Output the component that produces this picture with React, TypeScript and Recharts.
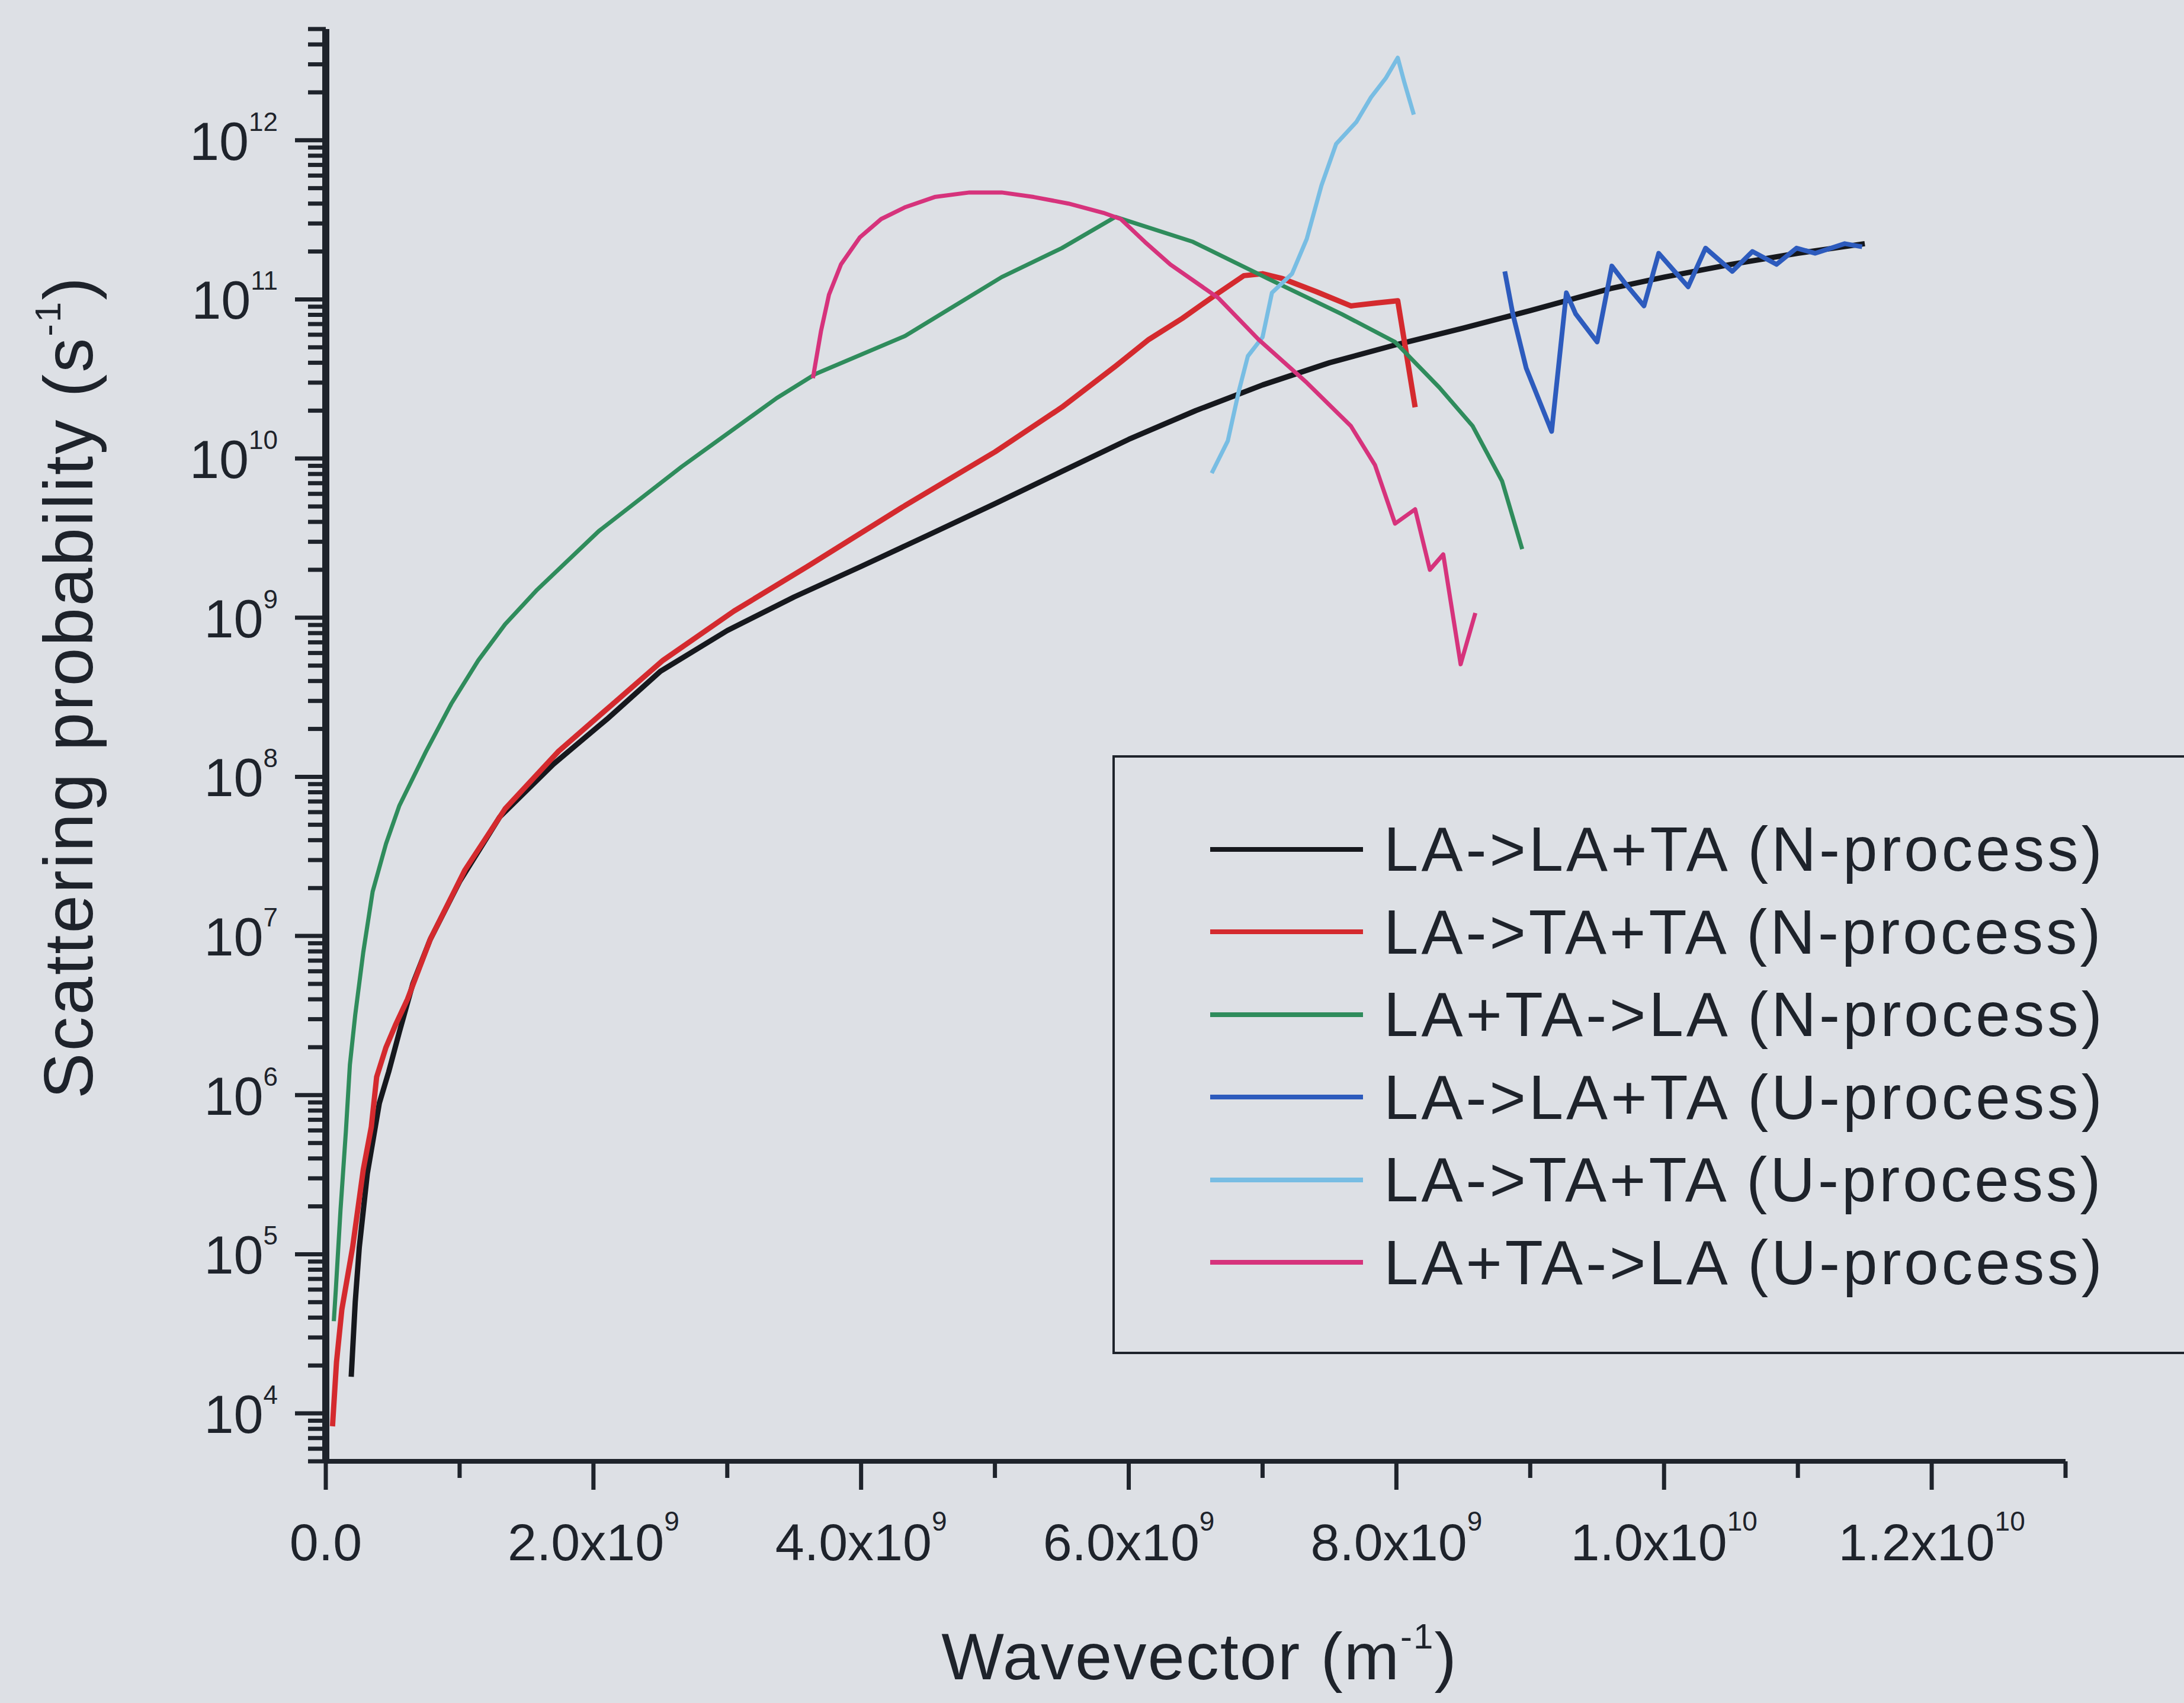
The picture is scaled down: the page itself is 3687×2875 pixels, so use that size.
import * as React from 'react';
import {Legend, Line, LineChart, XAxis, YAxis} from 'recharts';

type Pt = [number, number];

// wavevector (m^-1), scattering probability (s^-1)
const laLaTaN: Pt[] = [
    [0.19e9, 1.7e4], [0.22e9, 5.0e4], [0.25e9, 1.1e5], [0.31e9, 3.2e5], [0.4e9, 8.9e5],
    [0.47e9, 1.4e6], [0.55e9, 2.5e6], [0.65e9, 5.0e6], [0.78e9, 9.5e6], [1.0e9, 2.2e7],
    [1.3e9, 5.6e7], [1.7e9, 1.2e8], [2.1e9, 2.3e8], [2.5e9, 4.6e8], [3.0e9, 8.3e8],
    [3.5e9, 1.35e9], [4.0e9, 2.1e9], [4.5e9, 3.3e9], [5.0e9, 5.2e9], [5.5e9, 8.3e9],
    [6.0e9, 1.32e10], [6.5e9, 2.0e10], [7.0e9, 2.9e10], [7.5e9, 4.0e10], [8.0e9, 5.2e10],
    [8.5e9, 6.6e10], [9.0e9, 8.5e10], [9.6e9, 1.17e11], [10.0e9, 1.38e11], [10.5e9, 1.66e11],
    [11.0e9, 1.95e11], [11.5e9, 2.24e11],
];
const laTaTaN: Pt[] = [
    [0.05e9, 8.3e3], [0.08e9, 2.1e4], [0.12e9, 4.5e4], [0.2e9, 1.1e5], [0.28e9, 3.4e5],
    [0.34e9, 6.3e5], [0.38e9, 1.3e6], [0.45e9, 2.0e6], [0.52e9, 2.75e6], [0.61e9, 4.0e6],
    [0.78e9, 9.5e6], [1.04e9, 2.6e7], [1.34e9, 6.3e7], [1.74e9, 1.45e8], [2.13e9, 2.8e8],
    [2.52e9, 5.4e8], [3.05e9, 1.1e9], [3.6e9, 2.1e9], [4.3e9, 4.9e9], [5.0e9, 1.1e10],
    [5.5e9, 2.1e10], [5.9e9, 3.8e10], [6.15e9, 5.6e10], [6.4e9, 7.6e10], [6.65e9, 1.07e11],
    [6.86e9, 1.41e11], [7.0e9, 1.45e11], [7.15e9, 1.35e11], [7.4e9, 1.12e11], [7.66e9, 9.1e10],
    [7.85e9, 9.5e10], [8.01e9, 9.8e10], [8.14e9, 2.1e10],
];
const laTaLaN: Pt[] = [
    [0.06e9, 3.8e4], [0.075e9, 6.0e4], [0.11e9, 1.9e5], [0.15e9, 5.9e5], [0.18e9, 1.55e6],
    [0.22e9, 3.2e6], [0.28e9, 7.9e6], [0.35e9, 1.9e7], [0.45e9, 3.8e7], [0.55e9, 6.6e7],
    [0.75e9, 1.45e8], [0.94e9, 2.9e8], [1.14e9, 5.4e8], [1.34e9, 9.1e8], [1.58e9, 1.5e9],
    [2.04e9, 3.5e9], [2.66e9, 8.9e9], [3.37e9, 2.4e10], [3.66e9, 3.4e10], [4.33e9, 5.9e10],
    [5.05e9, 1.38e11], [5.5e9, 2.1e11], [5.9e9, 3.3e11], [6.48e9, 2.3e11], [7.04e9, 1.35e11],
    [7.59e9, 8.1e10], [7.99e9, 5.4e10], [8.32e9, 2.8e10], [8.57e9, 1.6e10], [8.79e9, 7.2e9],
    [8.94e9, 2.7e9],
];
const laLaTaU: Pt[] = [
    [8.81e9, 1.5e11], [8.87e9, 8.1e10], [8.97e9, 3.7e10], [9.16e9, 1.48e10], [9.27e9, 1.1e11],
    [9.34e9, 8.1e10], [9.5e9, 5.4e10], [9.61e9, 1.62e11], [9.71e9, 1.26e11], [9.85e9, 9.1e10],
    [9.96e9, 1.95e11], [10.18e9, 1.2e11], [10.31e9, 2.1e11], [10.51e9, 1.5e11], [10.66e9, 2.0e11],
    [10.84e9, 1.66e11], [10.99e9, 2.1e11], [11.13e9, 1.95e11], [11.35e9, 2.24e11], [11.48e9, 2.14e11],
];
const laTaTaU: Pt[] = [
    [6.62e9, 8.1e9], [6.74e9, 1.29e10], [6.82e9, 2.6e10], [6.89e9, 4.4e10], [7.0e9, 5.8e10],
    [7.07e9, 1.1e11], [7.22e9, 1.45e11], [7.33e9, 2.4e11], [7.44e9, 5.2e11], [7.55e9, 9.5e11],
    [7.7e9, 1.3e12], [7.81e9, 1.86e12], [7.92e9, 2.45e12], [8.01e9, 3.3e12], [8.06e9, 2.3e12],
    [8.13e9, 1.45e12],
];
const laTaLaU: Pt[] = [
    [3.64e9, 3.2e10], [3.7e9, 6.3e10], [3.76e9, 1.07e11], [3.85e9, 1.66e11], [3.99e9, 2.45e11],
    [4.15e9, 3.2e11], [4.33e9, 3.8e11], [4.55e9, 4.4e11], [4.81e9, 4.7e11], [5.05e9, 4.7e11],
    [5.29e9, 4.4e11], [5.55e9, 4.0e11], [5.81e9, 3.5e11], [5.94e9, 3.2e11], [6.12e9, 2.3e11],
    [6.31e9, 1.66e11], [6.67e9, 1.02e11], [6.97e9, 5.6e10], [7.33e9, 3.0e10], [7.66e9, 1.6e10],
    [7.84e9, 9.1e9], [7.99e9, 3.9e9], [8.14e9, 4.8e9], [8.25e9, 2.0e9], [8.35e9, 2.5e9],
    [8.48e9, 5.1e8], [8.59e9, 1.07e9],
];

const seriesNames = [
    'LA->LA+TA (N-process)',
    'LA->TA+TA (N-process)',
    'LA+TA->LA (N-process)',
    'LA->LA+TA (U-process)',
    'LA->TA+TA (U-process)',
    'LA+TA->LA (U-process)',
];
const seriesData = [laLaTaN, laTaTaN, laTaLaN, laLaTaU, laTaTaU, laTaLaU];
const seriesColors = ['#16181d', '#d42a2e', '#2f8c5c', '#2d5bbd', '#78bde3', '#d6337c'];
const seriesWidths = [9, 9, 7, 8, 7, 7];

const xTicks = [0, 1e9, 2e9, 3e9, 4e9, 5e9, 6e9, 7e9, 8e9, 9e9, 10e9, 11e9, 12e9, 13e9];
const xLabelValues = [0, 2e9, 4e9, 6e9, 8e9, 10e9, 12e9];
const xLabelMantissas = ['0.0', '2.0x10', '4.0x10', '6.0x10', '8.0x10', '1.0x10', '1.2x10'];
const xLabelExponents = ['', '9', '9', '9', '9', '10', '10'];

const yMajorTicks = [1e4, 1e5, 1e6, 1e7, 1e8, 1e9, 1e10, 1e11, 1e12];
const yTickExponents = ['4', '5', '6', '7', '8', '9', '10', '11', '12'];
const yDecades = [1e3, 1e4, 1e5, 1e6, 1e7, 1e8, 1e9, 1e10, 1e11, 1e12];
const yMinorMultipliers = [2, 3, 4, 5, 6, 7, 8, 9];
const Y_MIN = 5e3;
const Y_MAX = 5e12;

const yTicks: number[] = [];
yDecades.forEach((d) => {
    if (d >= Y_MIN) yTicks.push(d);
    yMinorMultipliers.forEach((m) => {
        const v = m * d;
        if (v >= Y_MIN && v <= Y_MAX) yTicks.push(v);
    });
});

const FONT = '"Liberation Sans", Arial, Helvetica, sans-serif';
const INK = '#1e232b';
const BG = '#dde0e5';

const XTick = (props: any) => {
    const {x, y, payload} = props;
    const idx = xLabelValues.indexOf(payload.value);
    const major = idx >= 0;
    return (
        <g>
            <line x1={x} x2={x} y1={y} y2={y + (major ? 48 : 28)} stroke={INK} strokeWidth={7} />
            {major && (
                <text x={x} y={y + 167} textAnchor="middle" fontFamily={FONT} fontSize={88} fill={INK}>
                    {xLabelMantissas[idx]}
                    {xLabelExponents[idx] && (
                        <tspan dy={-50} fontSize={46}>
                            {xLabelExponents[idx]}
                        </tspan>
                    )}
                </text>
            )}
        </g>
    );
};

const YTick = (props: any) => {
    const {x, y, payload} = props;
    const idx = yMajorTicks.indexOf(payload.value);
    const major = idx >= 0;
    return (
        <g>
            <line x1={x - (major ? 52 : 30)} x2={x} y1={y} y2={y} stroke={INK} strokeWidth={7} />
            {major && (
                <text x={x - 81} y={y + 33} textAnchor="end" fontFamily={FONT} fontSize={90} fill={INK}>
                    10
                    <tspan dy={-49} fontSize={44}>
                        {yTickExponents[idx]}
                    </tspan>
                </text>
            )}
        </g>
    );
};

const XTitle = () => (
    <text
        x={2025}
        y={2835}
        textAnchor="middle"
        fontFamily={FONT}
        fontSize={112}
        letterSpacing={2}
        fill={INK}>
        Wavevector (m
        <tspan dy={-52} fontSize={60}>
            -1
        </tspan>
        <tspan dy={52}>)</tspan>
    </text>
);

const YTitle = () => (
    <text
        x={156}
        y={1160}
        transform="rotate(-90 156 1160)"
        textAnchor="middle"
        fontFamily={FONT}
        fontSize={116}
        letterSpacing={3}
        fill={INK}>
        Scattering probability (s
        <tspan dy={-54} fontSize={62}>
            -1
        </tspan>
        <tspan dy={54}>)</tspan>
    </text>
);

const LegendBox = () => (
    <div
        style={{
            border: `4px solid ${INK}`,
            boxSizing: 'border-box',
            width: 2000,
            height: 1011,
            paddingTop: 85,
            fontFamily: FONT,
            fontSize: 105,
            letterSpacing: 5,
            color: INK,
            background: BG,
        }}>
        {seriesNames.map((name, i) => (
            <div key={name} style={{height: 139.5, display: 'flex', alignItems: 'center'}}>
                <div
                    style={{
                        width: 258,
                        height: 8,
                        marginLeft: 161,
                        marginRight: 35,
                        background: seriesColors[i],
                    }}
                />
                <span style={{lineHeight: '139.5px', whiteSpace: 'nowrap'}}>{name}</span>
            </div>
        ))}
    </div>
);

export default function App() {
    return (
        <div
            style={{
                position: 'absolute',
                left: 0,
                top: 0,
                width: 3687,
                height: 2875,
                overflow: 'hidden',
                background: BG,
            }}>
            <LineChart width={3687} height={2875} margin={{top: 49, right: 200, bottom: 108, left: 250}}>
                <XAxis
                    type="number"
                    dataKey="x"
                    domain={[0, 13e9]}
                    allowDataOverflow
                    ticks={xTicks}
                    interval={0}
                    height={300}
                    tickSize={0}
                    tickMargin={0}
                    tickLine={false}
                    tick={XTick}
                    axisLine={{stroke: INK, strokeWidth: 8}}
                    label={<XTitle />}
                />
                <YAxis
                    type="number"
                    dataKey="y"
                    scale="log"
                    domain={[Y_MIN, Y_MAX]}
                    allowDataOverflow
                    ticks={yTicks}
                    interval={0}
                    width={300}
                    tickSize={0}
                    tickMargin={0}
                    tickLine={false}
                    tick={YTick}
                    axisLine={{stroke: INK, strokeWidth: 12}}
                    label={<YTitle />}
                />
                <Legend
                    layout="horizontal"
                    verticalAlign="middle"
                    align="center"
                    width={2000}
                    wrapperStyle={{left: 1878, top: 1275, width: 2000}}
                    content={<LegendBox />}
                />
                {seriesData.map((pts, i) => (
                    <Line
                        key={seriesNames[i]}
                        name={seriesNames[i]}
                        data={pts.map(([x, y]) => ({x, y}))}
                        dataKey="y"
                        type="linear"
                        stroke={seriesColors[i]}
                        strokeWidth={seriesWidths[i]}
                        strokeLinejoin="round"
                        dot={false}
                        activeDot={false}
                        isAnimationActive={false}
                    />
                ))}
            </LineChart>
        </div>
    );
}
